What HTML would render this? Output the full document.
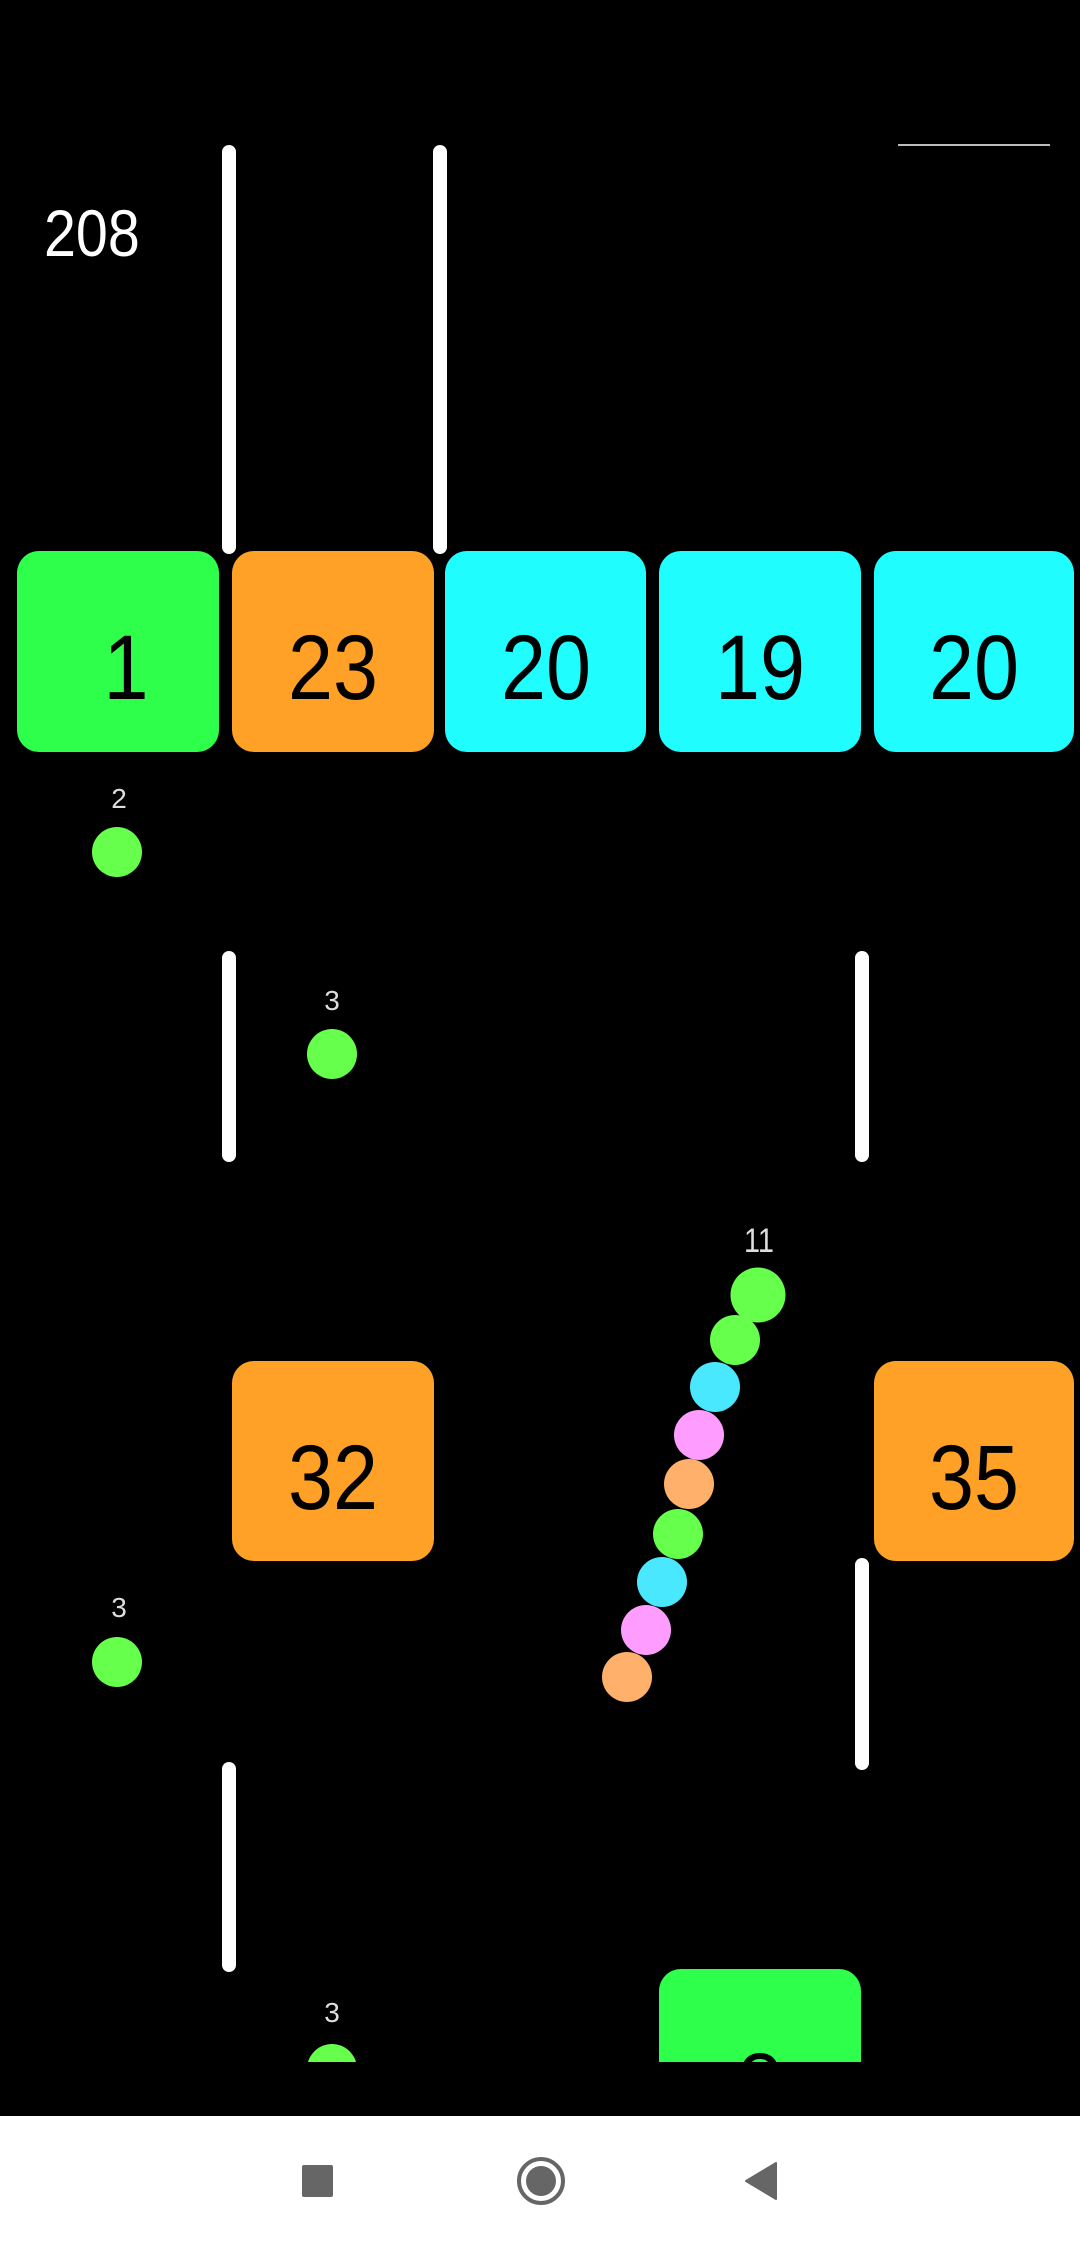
<!DOCTYPE html>
<html><head><meta charset="utf-8"><style>
html,body{margin:0;padding:0;background:#000;width:1080px;height:2246px;overflow:hidden}
svg{display:block}
text{font-family:"Liberation Sans",sans-serif}
</style></head><body>
<svg width="1080" height="2246" viewBox="0 0 1080 2246" xmlns="http://www.w3.org/2000/svg">
<rect width="1080" height="2246" fill="#000"/>
<text transform="translate(44,256) scale(0.87,1)" font-size="66" fill="#fff">208</text>
<line x1="898" y1="145" x2="1050" y2="145" stroke="#bbb" stroke-width="2"/>
<g fill="#fff">
<rect x="222" y="145" width="14" height="409" rx="7"/>
<rect x="433" y="145" width="14" height="409" rx="7"/>
<rect x="222" y="951" width="14" height="211" rx="7"/>
<rect x="855" y="951" width="14" height="211" rx="7"/>
<rect x="855" y="1558" width="14" height="212" rx="7"/>
<rect x="222" y="1762" width="14" height="210" rx="7"/>
</g>
<g font-size="92" text-anchor="middle" fill="#000">
<rect x="17" y="551" width="202" height="201" rx="22" fill="#2eff4a"/>
<text transform="translate(126,699) scale(0.88,1)">1</text>
<rect x="232" y="551" width="202" height="201" rx="22" fill="#ffa126"/>
<text transform="translate(333,699) scale(0.88,1)">23</text>
<rect x="445" y="551" width="201" height="201" rx="22" fill="#1ffdff"/>
<text transform="translate(546,699) scale(0.88,1)">20</text>
<rect x="659" y="551" width="202" height="201" rx="22" fill="#1ffdff"/>
<text transform="translate(760,699) scale(0.88,1)">19</text>
<rect x="874" y="551" width="200" height="201" rx="22" fill="#1ffdff"/>
<text transform="translate(974,699) scale(0.88,1)">20</text>
<rect x="232" y="1361" width="202" height="200" rx="22" fill="#ffa126"/>
<text transform="translate(333,1509) scale(0.88,1)">32</text>
<rect x="874" y="1361" width="200" height="200" rx="22" fill="#ffa126"/>
<text transform="translate(974,1509) scale(0.88,1)">35</text>
</g>
<g font-size="28" text-anchor="middle" fill="#ddd">
<text x="119" y="808">2</text>
<text x="332" y="1010">3</text>
<text x="119" y="1617">3</text>
<text x="332" y="2022">3</text>
<text transform="translate(759,1252) scale(0.85,1)" font-size="34">11</text>
</g>
<g fill="#66ff4c">
<circle cx="117" cy="852" r="25"/>
<circle cx="332" cy="1054" r="25"/>
<circle cx="117" cy="1662" r="25"/>
</g>
<circle cx="758" cy="1295" r="27.5" fill="#66ff4c"/>
<circle cx="735" cy="1340" r="25" fill="#66ff4c"/>
<circle cx="715" cy="1387" r="25" fill="#4ae8ff"/>
<circle cx="699" cy="1435" r="25" fill="#ff9cff"/>
<circle cx="689" cy="1484" r="25" fill="#ffb06a"/>
<circle cx="678" cy="1534" r="25" fill="#66ff4c"/>
<circle cx="662" cy="1582" r="25" fill="#4ae8ff"/>
<circle cx="646" cy="1630" r="25" fill="#ff9cff"/>
<circle cx="627" cy="1677" r="25" fill="#ffb06a"/>
<clipPath id="c"><rect x="0" y="0" width="1080" height="2062"/></clipPath>
<g clip-path="url(#c)">
<circle cx="332" cy="2069" r="25" fill="#66ff4c"/>
<rect x="659" y="1969" width="202" height="201" rx="22" fill="#2eff4a"/>
<text transform="translate(760,2117) scale(0.88,1)" font-size="92" text-anchor="middle" fill="#000">8</text>
</g>
<rect x="0" y="2116" width="1080" height="130" fill="#fff"/>
<rect x="302" y="2165" width="31" height="32" rx="2" fill="#666"/>
<circle cx="541" cy="2181" r="22" fill="none" stroke="#666" stroke-width="4"/>
<circle cx="541" cy="2181" r="15" fill="#666"/>
<path d="M776 2163 L776 2199 L746 2181 Z" fill="#666" stroke="#666" stroke-width="2" stroke-linejoin="round"/>
</svg>
</body></html>
